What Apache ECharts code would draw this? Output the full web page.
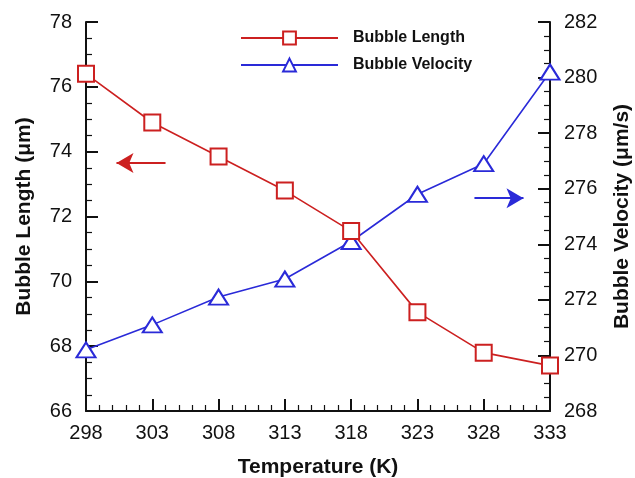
<!DOCTYPE html>
<html>
<head>
<meta charset="utf-8">
<script src="https://cdn.jsdelivr.net/npm/echarts@6/dist/echarts.min.js"></script>
<style>
  html, body { margin: 0; padding: 0; background: #fff; }
  #chart { width: 635px; height: 478px; }
</style>
</head>
<body>
<div id="chart"></div>
<script>
"use strict";

// 温度 (K) 与两条曲线读数
const temps = [298, 303, 308, 313, 318, 323, 328, 333];
const bubbleLength = [76.4, 74.9, 73.85, 72.8, 71.55, 69.05, 67.8, 67.4];
const bubbleVelocity = [270.2, 271.1, 272.1, 272.75, 274.1, 275.8, 276.9, 280.2];

// 注释箭头: [x起, x止, y] (x 以 K 计, y 为各自坐标轴的值)
const arrowLeft = [300.3, 304.0, 73.65];
const arrowRight = [327.3, 331.0, 275.66];

const T0 = temps[0];
const FONT = "Liberation Sans, Arial, Helvetica, sans-serif";
const RED = "#cc2020";
const BLUE = "#2a2ad8";

function axisCommon() {
  return {
    axisLine: { show: true, lineStyle: { color: "#111", width: 2 } },
    axisTick: { show: true, inside: true, length: 12, lineStyle: { color: "#111", width: 2 } },
    splitLine: { show: false },
    axisLabel: { color: "#111", fontSize: 20, fontFamily: FONT },
    nameTextStyle: { color: "#111", fontSize: 21, fontWeight: "bold", fontFamily: FONT },
  };
}

function minor(n) {
  return { show: true, splitNumber: n, length: 6, lineStyle: { color: "#111", width: 1.2 } };
}

function arrowLine(a, color, atStart) {
  return {
    silent: true,
    symbol: atStart ? ["arrow", "none"] : ["none", "arrow"],
    symbolSize: [15, 17],
    label: { show: false },
    lineStyle: { color: color, width: 2, type: "solid" },
    data: [[{ coord: [a[0] - T0, a[2]] }, { coord: [a[1] - T0, a[2]] }]],
  };
}

const chart = echarts.init(document.getElementById("chart"), null, { renderer: "canvas" });
chart.setOption({
  animation: false,
  backgroundColor: "#fff",
  grid: { left: 86, right: 85, top: 22, bottom: 67, outerBoundsMode: "none", containLabel: false },
  legend: {
    orient: "vertical",
    left: 240,
    top: 30,
    padding: 0,
    itemWidth: 97,
    itemHeight: 16,
    itemGap: 11,
    textStyle: { color: "#111", fontSize: 16, fontWeight: "bold", fontFamily: FONT, padding: [0, 0, 0, 10] },
    data: ["Bubble Length", "Bubble Velocity"],
  },
  xAxis: {
    ...axisCommon(),
    type: "value",
    min: 0,
    max: temps[temps.length - 1] - T0,
    interval: 5,
    name: "Temperature (K)",
    nameLocation: "middle",
    nameGap: 46,
    minorTick: minor(5),
    axisLabel: { ...axisCommon().axisLabel, margin: 12, formatter: v => String(v + T0) },
  },
  yAxis: [
    {
      ...axisCommon(),
      type: "value",
      position: "left",
      min: 66,
      max: 78,
      interval: 2,
      name: "Bubble Length (μm)",
      nameLocation: "middle",
      nameRotate: 90,
      nameGap: 51,
      minorTick: minor(4),
      axisLabel: { ...axisCommon().axisLabel, margin: 14 },
    },
    {
      ...axisCommon(),
      type: "value",
      position: "right",
      min: 268,
      max: 282,
      interval: 2,
      name: "Bubble Velocity (μm/s)",
      nameLocation: "middle",
      nameRotate: 90,
      nameGap: 62,
      minorTick: minor(4),
      axisLabel: { ...axisCommon().axisLabel, margin: 14 },
    },
  ],
  series: [
    {
      name: "Bubble Length",
      type: "line",
      yAxisIndex: 0,
      data: temps.map((t, i) => [t - T0, bubbleLength[i]]),
      symbol: "emptyRect",
      symbolSize: 16,
      itemStyle: { color: RED, borderWidth: 2 },
      lineStyle: { color: RED, width: 1.6 },
      markLine: arrowLine(arrowLeft, RED, true),
      z: 3,
    },
    {
      name: "Bubble Velocity",
      type: "line",
      yAxisIndex: 1,
      data: temps.map((t, i) => [t - T0, bubbleVelocity[i]]),
      symbol: "emptyTriangle",
      symbolSize: [19, 15],
      itemStyle: { color: BLUE, borderWidth: 2 },
      lineStyle: { color: BLUE, width: 1.6 },
      markLine: arrowLine(arrowRight, BLUE, false),
      z: 2,
    },
  ],
});
</script>
</body>
</html>
